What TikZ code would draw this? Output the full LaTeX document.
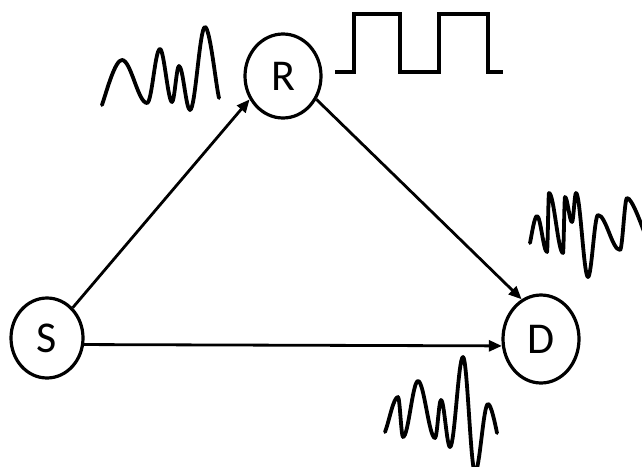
\documentclass[tikz,border=0pt]{standalone}
\usepackage{fontspec}
\setmainfont{Carlito}
\usetikzlibrary{arrows.meta,positioning,shapes.geometric}

\tikzset{
  station/.style={ellipse,draw,line width=3.2pt,inner sep=0pt,font=\fontsize{44}{46}\selectfont},
  link/.style={line width=2.8pt,-{Triangle[length=13pt,width=11pt]}},
  wave/.style={line width=3.8pt,line cap=round,line join=round}
}

\begin{document}
\begin{tikzpicture}[x=1pt,y=-1pt]
      \useasboundingbox (0,0) rectangle (642,466);
      \node[station,minimum width=72pt,minimum height=80pt] (S) at (47,338) {S};
      \node[station,minimum width=76pt,minimum height=84pt] (R) at (283,76) {R};
      \node[station,minimum width=76pt,minimum height=88pt] (D) at (541,339) {D};
      \draw[link] (S) -- (R.215);
      \draw[link] (R.-35) -- (D.116);
      \draw[link] (S.-10) -- (D.190);
      % signal at the source side of R
      \draw[wave] (102,105) .. controls +(5,-15) and +(-7,0) .. (122,60)
        .. controls +(9,0) and +(-9,0) .. (147,103)
        .. controls +(5,0) and +(-5,0) .. (160,49)
        .. controls +(4,0) and +(-4,0) .. (172,102)
        .. controls +(2.5,0) and +(-2.5,0) .. (179,66)
        .. controls +(4,0) and +(-4,0) .. (190,110)
        .. controls +(5.4,0) and +(-5.4,0) .. (205,27)
        .. controls +(5,0) and +(-3,-12) .. (219,98);
      % decoded bits at R
      \draw[wave,line cap=butt,line join=miter] (335,72) -- (354,72) -- (354,14) -- (400,14)
        -- (400,72) -- (439,72) -- (439,14) -- (488,14) -- (488,72) -- (503,72);
      % signal reaching D from R
      \draw[wave] (530,243) .. controls +(2,-10) and +(-2.5,0) .. (537,216)
        .. controls +(3.6,0) and +(-3.6,0) .. (547,252)
        .. controls +(0.7,0) and +(-0.7,0) .. (549,193)
        .. controls +(5,0) and +(-5,0) .. (563,253)
        .. controls +(0.7,0) and +(-0.7,0) .. (565,197)
        .. controls +(2.5,0) and +(-2.5,0) .. (572,222)
        .. controls +(1.5,0) and +(-1.5,0) .. (576,193)
        .. controls +(4.3,0) and +(-4.3,0) .. (588,277)
        .. controls +(3.6,0) and +(-3.6,0) .. (598,215)
        .. controls +(8,0) and +(-8,0) .. (620,250)
        .. controls +(2.5,0) and +(-2.5,0) .. (627,198)
        .. controls +(5,0) and +(-4,-10) .. (645,234);
      % signal on the direct link
      \draw[wave] (385,432) .. controls +(4,-10) and +(-4.7,0) .. (398,397)
        .. controls +(1.8,0) and +(-1.8,0) .. (403,437)
        .. controls +(5.4,0) and +(-5.4,0) .. (418,381)
        .. controls +(6,0) and +(-6,0) .. (435,438)
        .. controls +(2.2,0) and +(-2.2,0) .. (441,400)
        .. controls +(3.2,0) and +(-3.2,0) .. (450,447)
        .. controls +(4.7,0) and +(-4.7,0) .. (463,357)
        .. controls +(4.3,0) and +(-4.3,0) .. (475,472)
        .. controls +(4.7,0) and +(-4.7,0) .. (488,404)
        .. controls +(3,0) and +(-2,-10) .. (497,433);
\end{tikzpicture}
\end{document}
